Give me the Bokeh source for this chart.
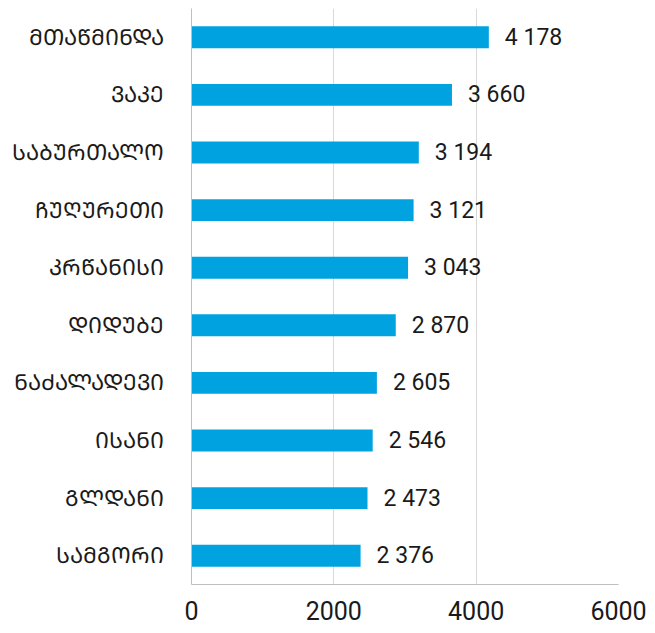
from bokeh.plotting import figure
from bokeh.models import ColumnDataSource, FactorRange, FixedTicker
from bokeh.core.properties import value
from bokeh.embed import file_html
from bokeh.resources import INLINE

districts = ["მთაწმინდა", "ვაკე", "საბურთალო", "ჩუღურეთი", "კრწანისი",
             "დიდუბე", "ნაძალადევი", "ისანი", "გლდანი", "სამგორი"]
values = [4178, 3660, 3194, 3121, 3043, 2870, 2605, 2546, 2473, 2376]
x_ticks = [0, 2000, 4000, 6000]

def to_mtavruli(s):
    return "".join(chr(ord(c) - 0x10D0 + 0x1C90) if 0x10D0 <= ord(c) <= 0x10FA else c for c in s)

cats = [to_mtavruli(d) for d in districts]
labels = ["{:,}".format(v).replace(",", " ") for v in values]

src = ColumnDataSource(dict(cat=cats, val=values, lab=labels))

p = figure(width=647, height=625, output_backend="svg", toolbar_location=None,
           y_range=FactorRange(*reversed(cats), range_padding=0),
           x_range=(0, 6000))
p.min_border_left = 191
p.min_border_right = 29
p.min_border_top = 8
p.min_border_bottom = 41
p.outline_line_color = None

p.hbar(y="cat", right="val", left=0, height=0.38, source=src,
       fill_color="#00A3E0", line_color=None)
p.text(x="val", y="cat", text="lab", source=src, x_offset=16,
       text_baseline="middle", text_align="left", text_font_size="23px",
       text_font=value("Roboto"), text_color="#1a1a1a")

p.xaxis.ticker = FixedTicker(ticks=x_ticks)
p.xaxis.major_tick_line_color = None
p.xaxis.minor_tick_line_color = None
p.xaxis.axis_line_color = "#bfbfbf"
p.xaxis.major_label_text_font_size = "25px"
p.xaxis.major_label_text_font = "Roboto"
p.xaxis.major_label_text_color = "#1a1a1a"
p.xaxis.major_label_standoff = 10

p.yaxis.major_tick_line_color = None
p.yaxis.minor_tick_line_color = None
p.yaxis.axis_line_color = "#bfbfbf"
p.yaxis.major_label_text_font_size = "22px"
p.yaxis.major_label_text_font = "DejaVu Sans"
p.yaxis.major_label_text_color = "#1a1a1a"
p.yaxis.major_label_standoff = 22

p.xgrid.grid_line_color = "#d9d9d9"
p.ygrid.grid_line_color = None

open("out.html", "w").write(file_html(p, INLINE))
